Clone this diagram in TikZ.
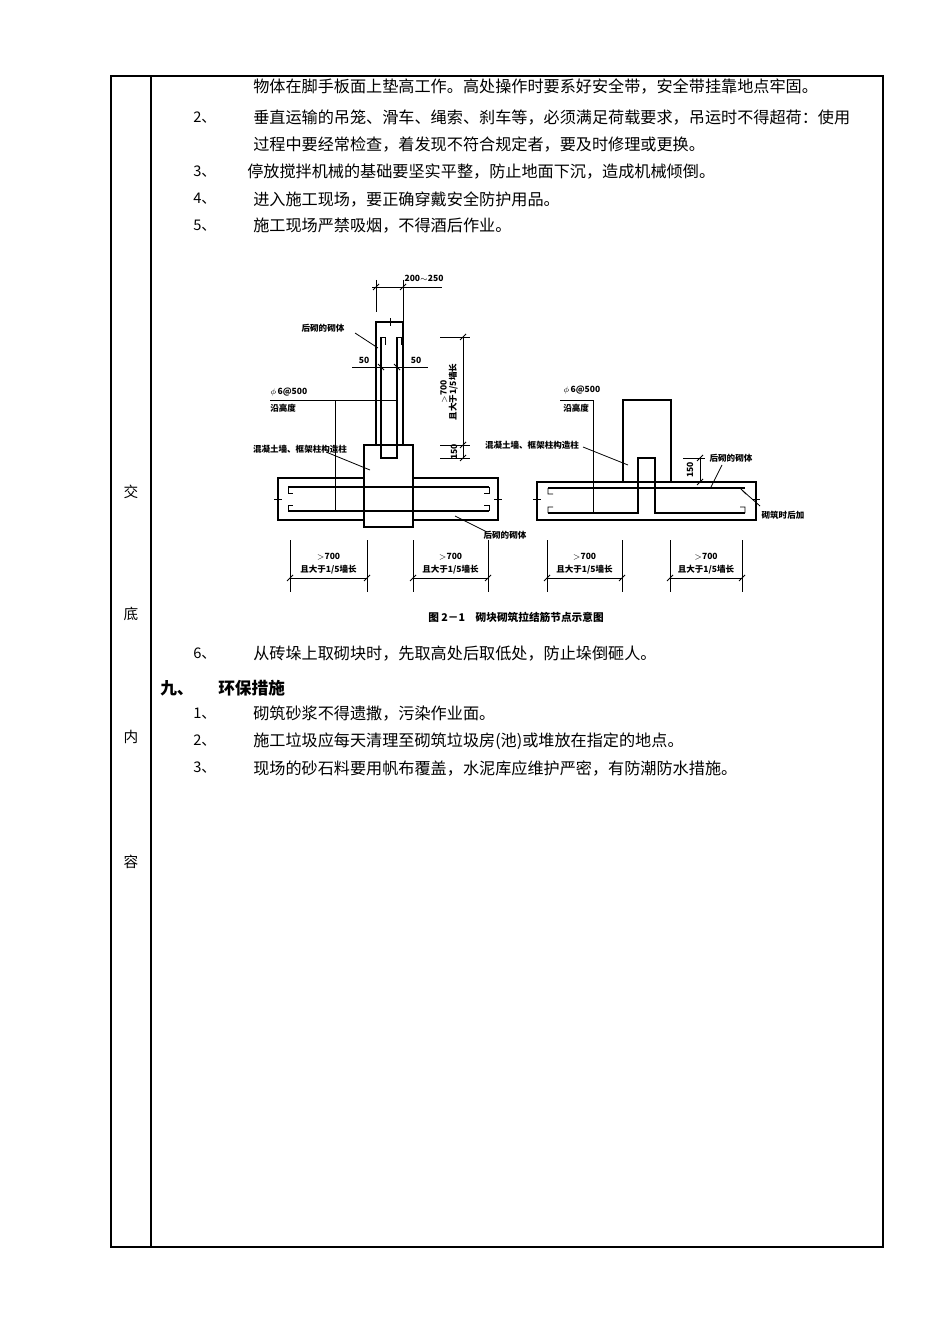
\documentclass[tikz,border=0pt]{standalone}
\usepackage{fontspec}
\setmainfont{Noto Sans CJK SC}
\newfontfamily\cjk{Noto Sans CJK SC}
\begin{document}
\begin{tikzpicture}[x=0.75pt,y=-0.75pt,
 txt/.style={anchor=west,inner sep=0pt,font=\cjk\fontsize{12.1}{13}\selectfont},
 num/.style={anchor=west,inner sep=0pt,font=\cjk\fontsize{11}{12}\selectfont},
 lab/.style={inner sep=0pt,font=\cjk\bfseries\fontsize{6.4}{7.2}\selectfont},
 thin/.style={line width=0.6pt},
 bar/.style={line width=1.6pt},
 wall/.style={line width=1pt}]
\useasboundingbox (0,0) rectangle (950,1344);
\fill[white] (0,0) rectangle (950,1344);
% table
\draw[line width=0.8pt] (111,76) rectangle (883,1247);
\draw[line width=0.8pt] (151,76) -- (151,1247);
\foreach \c/\y/\n in {交/492/a,底/614/b,内/737/c,容/862/d}
 \node[lab,font=\cjk\fontsize{11}{12}\selectfont] (L\n) at (131,\y) {\c};
% text
\node[txt] (t0) at (253,87) {物体在脚手板面上垫高工作。高处操作时要系好安全带，安全带挂靠地点牢固。};
\node[num] (n2) at (193,118) {2、};
\node[txt] (t2) at (253,118) {垂直运输的吊笼、滑车、绳索、刹车等，必须满足荷载要求，吊运时不得超荷：使用};
\node[txt] (t2b) at (253,145) {过程中要经常检查，着发现不符合规定者，要及时修理或更换。};
\node[num] (n3) at (193,172) {3、};
\node[txt] (t3) at (247,172) {停放搅拌机械的基础要坚实平整，防止地面下沉，造成机械倾倒。};
\node[num] (n4) at (193,199) {4、};
\node[txt] (t4) at (253,199) {进入施工现场，要正确穿戴安全防护用品。};
\node[num] (n5) at (193,226) {5、};
\node[txt] (t5) at (253,226) {施工现场严禁吸烟，不得酒后作业。};
\node[num] (n6) at (193,654) {6、};
\node[txt] (t6) at (253,654) {从砖垛上取砌块时，先取高处后取低处，防止垛倒砸人。};
\node[txt,font=\cjk\bfseries\fontsize{12.5}{14}\selectfont] (h9) at (160,688) {九、};
\node[txt,font=\cjk\bfseries\fontsize{12.5}{14}\selectfont] (h9b) at (218,688) {环保措施};
\node[num] (m1) at (193,714) {1、};
\node[txt] (s1) at (253,714) {砌筑砂浆不得遗撒，污染作业面。};
\node[num] (m2) at (193,741) {2、};
\node[txt] (s2) at (253,741) {施工垃圾应每天清理至砌筑垃圾房(池)或堆放在指定的地点。};
\node[num] (m3) at (193,768) {3、};
\node[txt] (s3) at (253,768) {现场的砂石料要用帆布覆盖，水泥库应维护严密，有防潮防水措施。};
% caption
\node[lab,font=\cjk\bfseries\fontsize{8}{9}\selectfont] (cap) at (516,617) {图 2－1\quad 砌块砌筑拉结筋节点示意图};
% ===== left figure
\draw[thin] (376,280) -- (376,312) (403,280) -- (403,322) (372,287) -- (442,287);
\draw[thin] (373,290)--(379,284) (400,290)--(406,284);
\node[lab] (d200) at (424,278) {200$\sim$250};
\draw[wall] (376,445) -- (376,322) -- (403,322) -- (403,445);
\draw[thin] (390,318) -- (390,326);
\draw[bar] (381,337) -- (381,458) -- (397,458) -- (397,337);
\draw[thin] (381,337) -- (385,337) -- (385,345) (397,337)--(401,337)--(401,345);
\draw[wall] (364,445) rectangle (413,527);
\draw[wall] (364,478) -- (278,478) -- (278,520) -- (364,520);
\draw[wall] (413,478) -- (498,478) -- (498,520) -- (413,520);
\draw[bar] (288,487) -- (489,487) (288,511) -- (489,511);
\draw[thin] (288,487)--(288,493)--(293,493) (288,511)--(288,505)--(293,505)
 (489,487)--(489,493)--(484,493) (489,511)--(489,505)--(484,505);
\draw[thin] (274,499)--(282,499) (494,499)--(502,499);
\draw[thin] (352,367) -- (428,367);
\draw[thin] (378,364)--(384,370) (394,364)--(400,370);
\node[lab] (d50a) at (364,360) {50};
\node[lab] (d50b) at (416,360) {50};
\node[lab,anchor=west] (phiL) at (270,392) {$\phi$\,6@500};
\node[lab,anchor=west] (hL) at (270,408) {沿高度};
\draw[thin] (270,400) -- (397,400) (335,400) -- (335,511);
\node[lab] (hqL) at (323,328) {后砌的砌体};
\draw[thin] (355,333) -- (378,348);
\node[lab] (hnL) at (300,449) {混凝土墙、框架柱构造柱};
\draw[thin] (326,452) -- (370,470);
\draw[thin] (463,337) -- (463,458) (440,337)--(470,337) (440,445)--(470,445) (440,458)--(470,458);
\draw[thin] (460,340)--(466,334) (460,448)--(466,442) (460,461)--(466,455);
\node[lab,rotate=90,align=center] (v700) at (449,392) {$>$700\\且大于1/5墙长};
\node[lab,rotate=90] (v150) at (454,452) {150};
\node[lab] (hqL2) at (505,535) {后砌的砌体};
\draw[thin] (455,516) -- (487,532);
% bottom dims
\foreach \a/\b/\k in {290/367/p,413/488/q,547/622/r,670/742/s}{
 \draw[thin] (\a,540)--(\a,592) (\b,540)--(\b,592) (\a,578)--(\b,578);
 \draw[thin] (\a-3,581)--(\a+3,575) (\b-3,581)--(\b+3,575);
 \node[lab] (g\k) at ({(\a+\b)/2},557) {$>$700};
 \node[lab] (h\k) at ({(\a+\b)/2},570) {且大于1/5墙长};
}
% ===== right figure
\node[lab,anchor=west] (phiR) at (563,390) {$\phi$\,6@500};
\node[lab,anchor=west] (hR) at (563,408) {沿高度};
\draw[thin] (560,400) -- (593,400) -- (593,513);
\draw[wall] (623,482) -- (623,400) -- (671,400) -- (671,482);
\draw[wall] (537,482) rectangle (756,520);
\draw[bar] (548,488) -- (745,488);
\draw[bar] (548,513) -- (638,513) -- (638,458) -- (655,458) -- (655,513) -- (745,513);
\draw[thin] (548,488)--(548,494)--(553,494) (548,513)--(548,507)--(553,507)
 (745,513)--(745,507)--(740,507) (740,488)--(746,494);
\draw[thin] (533,499)--(541,499) (752,499)--(760,499);
\node[lab] (hnR) at (532,445) {混凝土墙、框架柱构造柱};
\draw[thin] (583,447) -- (628,465);
\draw[thin] (700,458) -- (700,482) (683,458) -- (705,458);
\draw[thin] (697,461)--(703,455) (697,485)--(703,479);
\node[lab,rotate=90] (r150) at (690,470) {150};
\node[lab] (hqR) at (731,458) {后砌的砌体};
\draw[thin] (722,465) -- (711,487);
\node[lab] (jz) at (783,515) {砌筑时后加};
\draw[thin] (743,491) -- (760,506);
\end{tikzpicture}
\end{document}
